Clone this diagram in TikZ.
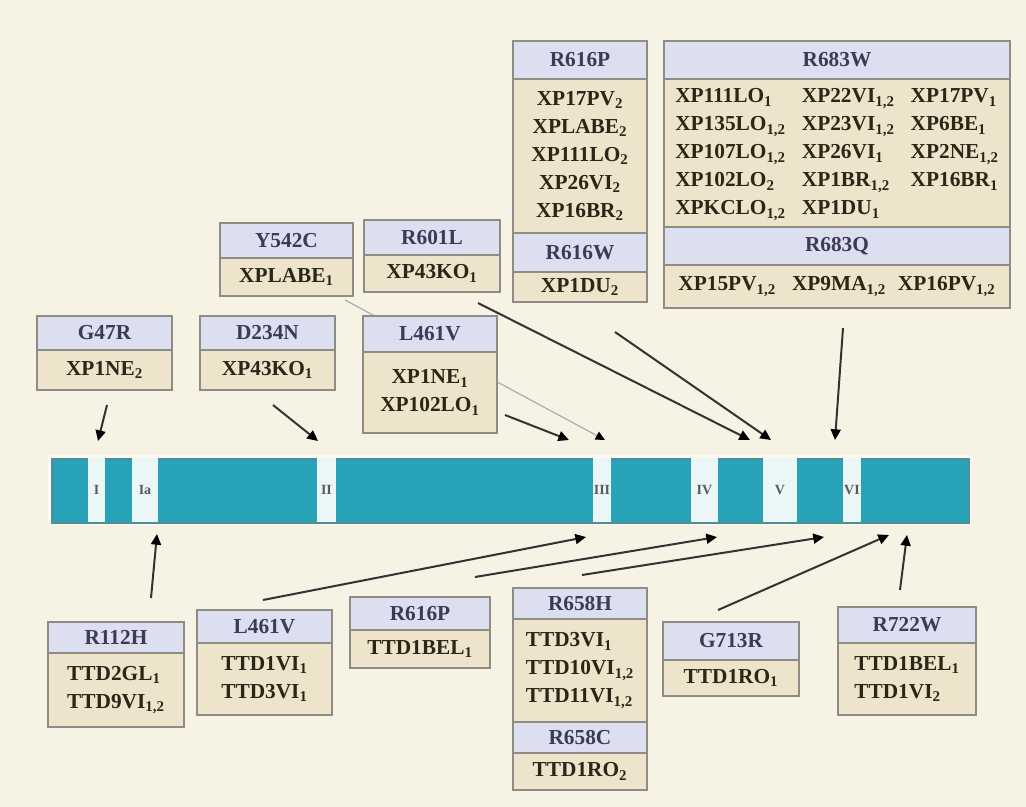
\documentclass[tikz,border=0pt]{standalone}
\usepackage{fontspec}
\setmainfont{Liberation Serif}
\usetikzlibrary{arrows.meta}
\definecolor{bg}{HTML}{F6F2E4}
\definecolor{hdrfill}{HTML}{DCDFF0}
\definecolor{bdyfill}{HTML}{EDE4CB}
\definecolor{boxline}{HTML}{8E8C84}
\definecolor{hdrtext}{HTML}{3B3B58}
\definecolor{bdytext}{HTML}{2A2618}
\definecolor{teal}{HTML}{27A2B6}
\definecolor{tealedge}{HTML}{4F8E93}
\definecolor{segfill}{HTML}{EAF7F6}
\definecolor{seglabel}{HTML}{5A5A5A}
\definecolor{arrline}{HTML}{333333}
\newcommand\sbs[1]{\textsubscript{#1}}
\newcommand\cell[7][]{\node[cellbase,minimum width={(#5-#3)*0.75pt},minimum height={(#6-#4)*0.75pt},#1] (#2) at (#3,#4) {#7};}
\newcommand\segm[4]{\node[seg,minimum width={(#3-#2)*0.75pt}] (#1) at (#2,458) {#4};}
\tikzset{
  cellbase/.style={anchor=north west, draw=boxline, line width=1.6pt, inner sep=0pt, outer sep=0pt, font=\fontsize{16}{21}\selectfont\bfseries},
  hdr/.style={fill=hdrfill, text=hdrtext},
  bdy/.style={fill=bdyfill, text=bdytext, align=center},
  bdyl/.style={fill=bdyfill, text=bdytext, align=left},
  seg/.style={anchor=north west, fill=segfill, inner sep=0pt, outer sep=0pt, minimum height={64*0.75pt}, text=seglabel, font=\fontsize{10.5}{12}\selectfont\bfseries},
  arr/.style={draw=arrline, line width=1.5pt, -{Triangle[length=8pt,width=7.5pt,black]}},
  faint/.style={draw=gray!65, line width=0.9pt, -{Triangle[length=7pt,width=6.5pt,black]}}
}
\begin{document}
\begin{tikzpicture}[x=0.75pt,y=-0.75pt]
\useasboundingbox[fill=bg] (0,0) rectangle (1026,807);

% protein bar
\node[anchor=north west, fill=white!55!bg, inner sep=0pt, minimum width={923*0.75pt}, minimum height={70*0.75pt}] (halo) at (48,455) {};
\node[anchor=north west, fill=teal, draw=tealedge, line width=1.8pt, inner sep=0pt, minimum width={917*0.75pt}, minimum height={64*0.75pt}] (bar) at (51,458) {};
\segm{sI}{88}{105}{I}
\segm{sIa}{132}{158}{Ia}
\segm{sII}{317}{336}{II}
\segm{sIII}{593}{611}{III}
\segm{sIV}{691}{718}{IV}
\segm{sV}{763}{797}{V}
\segm{sVI}{843}{861}{VI}

% arrow end points
\coordinate (aG47s) at (107,405);  \coordinate (aG47t) at (98,441);
\coordinate (aD234s) at (273,405); \coordinate (aD234t) at (318,441);
\coordinate (aY542s) at (345,300); \coordinate (aY542t) at (605,440);
\coordinate (aL461s) at (505,415); \coordinate (aL461t) at (569,440);
\coordinate (aR601s) at (478,303); \coordinate (aR601t) at (750,440);
\coordinate (aR616s) at (615,332); \coordinate (aR616t) at (771,440);
\coordinate (aR683s) at (843,328); \coordinate (aR683t) at (835,440);
\coordinate (bR112s) at (151,598); \coordinate (bR112t) at (157,534);
\coordinate (bL461s) at (263,600); \coordinate (bL461t) at (586,537);
\coordinate (bR616s) at (475,577); \coordinate (bR616t) at (717,537);
\coordinate (bR658s) at (582,575); \coordinate (bR658t) at (824,537);
\coordinate (bG713s) at (718,610); \coordinate (bG713t) at (889,535);
\coordinate (bR722s) at (900,590); \coordinate (bR722t) at (907,535);

\draw[faint] (aY542s) -- (aY542t);

% top boxes
\cell[hdr]{g47h}{37}{316}{172}{350}{G47R}
\cell[bdy]{g47b}{37}{350}{172}{390}{XP1NE\sbs{2}}
\cell[hdr]{d234h}{200}{316}{335}{350}{D234N}
\cell[bdy]{d234b}{200}{350}{335}{390}{XP43KO\sbs{1}}
\cell[hdr]{y542h}{220}{223}{353}{258}{Y542C}
\cell[bdy]{y542b}{220}{258}{353}{296}{XPLABE\sbs{1}}
\cell[hdr]{r601h}{364}{220}{500}{255}{R601L}
\cell[bdy]{r601b}{364}{255}{500}{292}{XP43KO\sbs{1}}
\cell[hdr]{l461h}{363}{316}{497}{352}{L461V}
\cell[bdy]{l461b}{363}{352}{497}{433}{XP1NE\sbs{1}\\XP102LO\sbs{1}}
\cell[hdr]{r616ph}{513}{41}{647}{79}{R616P}
\cell[bdy]{r616pb}{513}{79}{647}{233}{XP17PV\sbs{2}\\XPLABE\sbs{2}\\XP111LO\sbs{2}\\XP26VI\sbs{2}\\XP16BR\sbs{2}}
\cell[hdr]{r616wh}{513}{233}{647}{272}{R616W}
\cell[bdy]{r616wb}{513}{272}{647}{302}{XP1DU\sbs{2}}
\cell[hdr]{r683wh}{664}{41}{1010}{79}{R683W}
\cell[bdy]{r683wb}{664}{79}{1010}{227}{\begin{tabular}{@{}l@{\hspace{12pt}}l@{\hspace{12pt}}l@{}}
XP111LO\sbs{1} & XP22VI\sbs{1,2} & XP17PV\sbs{1}\\
XP135LO\sbs{1,2} & XP23VI\sbs{1,2} & XP6BE\sbs{1}\\
XP107LO\sbs{1,2} & XP26VI\sbs{1} & XP2NE\sbs{1,2}\\
XP102LO\sbs{2} & XP1BR\sbs{1,2} & XP16BR\sbs{1}\\
XPKCLO\sbs{1,2} & XP1DU\sbs{1} & \end{tabular}}
\cell[hdr]{r683qh}{664}{227}{1010}{265}{R683Q}
\cell[bdy]{r683qb}{664}{265}{1010}{308}{XP15PV\sbs{1,2}\hspace{12pt}XP9MA\sbs{1,2}\hspace{9pt}XP16PV\sbs{1,2}}

% bottom boxes
\cell[hdr]{r112h}{48}{622}{184}{653}{R112H}
\cell[bdyl]{r112b}{48}{653}{184}{727}{TTD2GL\sbs{1}\\TTD9VI\sbs{1,2}}
\cell[hdr]{l461bh}{197}{610}{332}{643}{L461V}
\cell[bdy]{l461bb}{197}{643}{332}{715}{TTD1VI\sbs{1}\\TTD3VI\sbs{1}}
\cell[hdr]{r616bh}{350}{597}{490}{630}{R616P}
\cell[bdy]{r616bb}{350}{630}{490}{668}{TTD1BEL\sbs{1}}
\cell[hdr]{r658hh}{513}{588}{647}{619}{R658H}
\cell[bdyl]{r658hb}{513}{619}{647}{722}{TTD3VI\sbs{1}\\TTD10VI\sbs{1,2}\\TTD11VI\sbs{1,2}}
\cell[hdr]{r658ch}{513}{722}{647}{753}{R658C}
\cell[bdy]{r658cb}{513}{753}{647}{790}{TTD1RO\sbs{2}}
\cell[hdr]{g713h}{663}{622}{799}{660}{G713R}
\cell[bdy]{g713b}{663}{660}{799}{696}{TTD1RO\sbs{1}}
\cell[hdr]{r722h}{838}{607}{976}{643}{R722W}
\cell[bdyl]{r722b}{838}{643}{976}{715}{TTD1BEL\sbs{1}\\TTD1VI\sbs{2}}

% arrows
\draw[arr] (aG47s) -- (aG47t);
\draw[arr] (aD234s) -- (aD234t);
\draw[arr] (aL461s) -- (aL461t);
\draw[arr] (aR601s) -- (aR601t);
\draw[arr] (aR616s) -- (aR616t);
\draw[arr] (aR683s) -- (aR683t);
\draw[arr] (bR112s) -- (bR112t);
\draw[arr] (bL461s) -- (bL461t);
\draw[arr] (bR616s) -- (bR616t);
\draw[arr] (bR658s) -- (bR658t);
\draw[arr] (bG713s) -- (bG713t);
\draw[arr] (bR722s) -- (bR722t);
\end{tikzpicture}
\end{document}
